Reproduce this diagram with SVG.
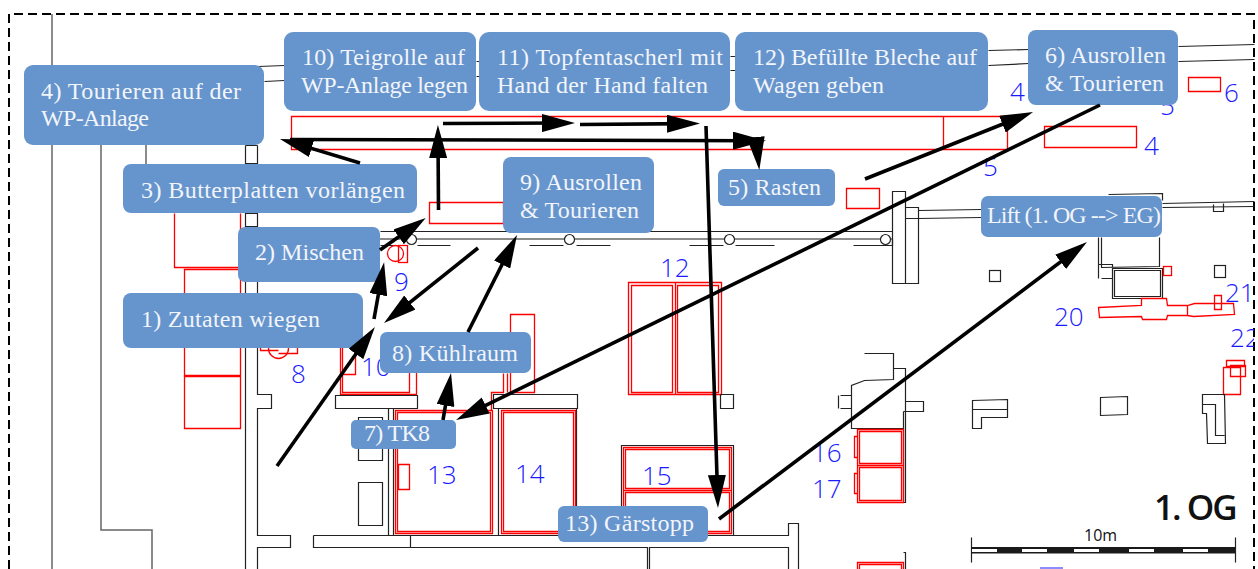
<svg xmlns="http://www.w3.org/2000/svg" width="1258" height="569" viewBox="0 0 1258 569">
<style>
.k{fill:none;stroke:#222;stroke-width:1.200;transform:translate(.5px,.5px)}
.g{fill:none;stroke:#666;stroke-width:1.500}
.r{fill:none;stroke:#f00;stroke-width:1.300;transform:translate(.5px,.5px)}
.b{font-family:"Open Sans","Liberation Sans",sans-serif;font-weight:300;font-size:26px;fill:#1a1aff}
.n{fill:#6694cc}
.t{font-family:"Liberation Serif",serif;font-size:24px;fill:#f2f5fb}
.a{fill:none;stroke:#000;stroke-width:3.600;marker-end:url(#h)}
</style>
<defs>
<marker id="h" markerUnits="userSpaceOnUse" viewBox="0 0 33 18" markerWidth="33" markerHeight="18" refX="21" refY="9" orient="auto"><path d="M0 0L33 9L0 18Z" fill="#000"/></marker>
<clipPath id="c"><rect x="0" y="0" width="1254" height="569"/></clipPath>
</defs>
<rect width="1258" height="569" fill="#fff"/>
<g id="plan">
<path d="M9 569V14H1254V569" fill="none" stroke="#000" stroke-width="2" stroke-dasharray="9 5"/>
<path class="g" d="M52 14V569M101 145V530H152V569M146 145V164"/>
<path class="k" d="M245 145V569M257 145V394H271V408H257V535H290V547H257V569M245 145H257M245 163H257M245 213H257M245 226H257"/>
<path class="k" d="M258 66L284 65M264 81L284 80M476 61H479M476 76H479M730 56H735M730 70H735M988 50L1028 49M988 65L1028 63M1178 46L1254 44M1178 61L1254 59"/>
<path class="k" d="M380 231H892M380 245H405M417 245H450M529 245H563M576 245H610M689 245H723M735 245H774M853 245H892V239"/>
<path class="g" d="M380 239H892"/>
<circle class="k" cx="411" cy="239" r="5" style="fill:#fff"/><circle class="k" cx="569" cy="239" r="5" style="fill:#fff"/><circle class="k" cx="729" cy="239" r="5" style="fill:#fff"/><circle class="k" cx="885" cy="239" r="5" style="fill:#fff"/>
<path class="k" d="M892 191H905V283H892ZM905 207H918V283H905ZM905 218H918M918 210L981 209M918 218L981 217M1162 203L1254 201M1162 207L1254 206M1108 194L1162 193V200"/>
<path class="k" d="M1213 204V211H1223V203M1101 237V267L1159 266V237M1098 237V264H1112V278H1101M1098 264V278M1112 268H1162V298H1112ZM1114 270H1160V296H1114Z"/>
<rect class="r" x="1163" y="266" width="8" height="9"/>
<rect class="k" x="989" y="270" width="11" height="11"/><rect class="k" x="1214" y="265" width="11" height="12"/>
<path class="r" d="M1098 307L1141 305V298L1166 298L1167 305H1187L1194 303H1233L1234 314L1193 316L1187 315H1167L1166 319H1142L1141 316L1099 317ZM1187 305V315M1214 295H1221V309H1214Z"/>
<path class="r" d="M1223 367H1240V394H1223ZM1226 360H1244V366H1226ZM1230 365H1245V376H1230Z"/>
<path class="k" d="M1202 394H1224L1225 443H1207L1206 413H1202ZM1202 404H1215V435H1224"/>
<path class="k" d="M1100 397L1127 396V414L1100 415Z"/>
<path class="k" d="M972 400L1007 399V417H981V428H972ZM972 409H1007"/>
<path class="k" d="M864 353H893V379L864 380L851 385V428H903M893 368H905V428M905 401H923V411H903M840 395H851M840 408H851M903 411V502H905V411M838 395V408M903 552H905V569"/>
<path class="r" d="M857 429H903V465H857ZM859 431H901V463H859ZM857 465H903V502H857ZM859 467H901V500H859ZM854 436H857V457H854ZM854 473H857V493H854ZM857 569V562H903V569M859 569V564H901V569"/>
<path class="k" d="M971 537V562M1235 537V562"/>
<rect x="971" y="547" width="264" height="6.500" fill="#1a1a1a"/>
<path fill="#fff" d="M972 549H997V552H972ZM1022 549H1047V552H1022ZM1074 549H1099V552H1074ZM1129 549H1154V552H1129ZM1183 549H1208V552H1183Z"/>
<text x="1084" y="541" style="font-family:'Open Sans','Liberation Sans',sans-serif;font-size:16px;fill:#111">10m</text>
<text x="1154" y="520" style="font-family:'Open Sans','Liberation Sans',sans-serif;font-size:35px;font-weight:600;fill:#111;letter-spacing:-2px">1. OG</text>
<path d="M1040 568H1063" stroke="#1a1aff" stroke-width="1"/>
<path class="r" d="M291 116H1007V149H291ZM943 116V149M1044 126H1136V147H1044ZM1188 77H1220V91H1188ZM846 188H879V208H846ZM429 202H503V223H429Z"/>
<path class="r" d="M174 213V267H240V213M184 269H240V375H184ZM184 376H240V428H184ZM240 213V269"/>
<circle class="r" cx="395" cy="253" r="8"/><rect class="r" x="398" y="245" width="9" height="17"/>
<path class="r" d="M260 345V350H278M278 353H297V345"/><circle class="r" cx="278" cy="348" r="10"/>
<path class="r" d="M628 282H721V394H628ZM675 282V394M631 285H672V392H631ZM677 285H718V392H677Z"/>
<path class="r" d="M510 314H534V392H510ZM491 410V392H503V373M507 373V392"/>
<path class="r" d="M340 333V394H416V333M342 335V392H409V335M342 345H355V374H342Z"/>
<path class="k" d="M335 395H417V408H335ZM493 394H577V408H493ZM498 408V535M576 408V535M388 408V535M393 408V535M358 417H382V460H358ZM358 482H382V525H358ZM720 394H733V408H720Z"/>
<path class="k" d="M621 535V445H733V535"/>
<path class="r" d="M395 410H492V533H395ZM397 412H490V531H397ZM501 410H575V533H501ZM503 412H573V531H503ZM398 464H409V489H398Z"/>
<path class="r" d="M623 447H731V533H623ZM625 449H729V488H625ZM625 492H729V531H625ZM623 490H731"/>
<path class="k" d="M313 535V547H647V569M649 569V547H788V569M313 535H788V523H798V569M410 535V547"/>
<g clip-path="url(#c)">
<text class="b" x="1010" y="101">4</text><text class="b" x="1144" y="155">4</text><text class="b" x="983" y="176">5</text><text class="b" x="1224" y="102">6</text><text class="b" x="1160" y="115">5</text>
<text class="b" x="394" y="291">9</text><text class="b" x="660" y="277">12</text><text class="b" x="291" y="383">8</text><text class="b" x="361" y="376">10</text>
<text class="b" x="427" y="484">13</text><text class="b" x="515" y="483">14</text><text class="b" x="642" y="485">15</text><text class="b" x="812" y="462">16</text><text class="b" x="812" y="498">17</text>
<text class="b" x="1054" y="326">20</text><text class="b" x="1225" y="302">21</text><text class="b" x="1230" y="347">22</text>
</g>
</g>
<g id="node-4"><rect class="n" x="24" y="65" width="240" height="80" rx="9"/><text class="t" x="41" y="99" textLength="200">4) Tourieren auf der</text><text class="t" x="41" y="126" textLength="108">WP-Anlage</text></g>
<g id="node-10"><rect class="n" x="284" y="32" width="192" height="79" rx="9"/><text class="t" x="302" y="65" textLength="163">10) Teigrolle auf</text><text class="t" x="301" y="93" textLength="167">WP-Anlage legen</text></g>
<g id="node-11"><rect class="n" x="479" y="32" width="251" height="79" rx="10"/><text class="t" x="497" y="65" textLength="226">11) Topfentascherl mit</text><text class="t" x="497" y="93" textLength="211">Hand der Hand falten</text></g>
<g id="node-12"><rect class="n" x="735" y="32" width="253" height="79" rx="10"/><text class="t" x="753" y="65" textLength="224">12) Befüllte Bleche auf</text><text class="t" x="753" y="93" textLength="131">Wagen geben</text></g>
<g id="node-6"><rect class="n" x="1028" y="30" width="150" height="75" rx="8"/><text class="t" x="1045" y="63" textLength="121">6) Ausrollen</text><text class="t" x="1045" y="91" textLength="119">&amp; Tourieren</text></g>
<g id="node-3"><rect class="n" x="123" y="164" width="294" height="49" rx="8"/><text class="t" x="141" y="198" textLength="264">3) Butterplatten vorlängen</text></g>
<g id="node-9"><rect class="n" x="503" y="157" width="151" height="76" rx="8"/><text class="t" x="520" y="190" textLength="122">9) Ausrollen</text><text class="t" x="520" y="218" textLength="119">&amp; Tourieren</text></g>
<g id="node-5"><rect class="n" x="718" y="169" width="117" height="37" rx="6"/><text class="t" x="728" y="195" textLength="93">5) Rasten</text></g>
<g id="node-lift"><rect class="n" x="981" y="196" width="181" height="41" rx="7"/><text class="t" x="987" y="223" textLength="174">Lift (1. OG --&gt; EG)</text></g>
<g id="node-2"><rect class="n" x="238" y="227" width="142" height="55" rx="7"/><text class="t" x="255" y="260" textLength="109">2) Mischen</text></g>
<g id="node-1"><rect class="n" x="123" y="293" width="240" height="55" rx="8"/><text class="t" x="141" y="327" textLength="179">1) Zutaten wiegen</text></g>
<g id="node-8"><rect class="n" x="380" y="332" width="151" height="41" rx="7"/><text class="t" x="392" y="361" textLength="126">8) Kühlraum</text></g>
<g id="node-7"><rect class="n" x="351" y="420" width="105" height="29" rx="5"/><text class="t" x="364" y="441" textLength="66">7) TK8</text></g>
<g id="node-13"><rect class="n" x="558" y="506" width="150" height="36" rx="6"/><text class="t" x="565" y="531" textLength="129">13) Gärstopp</text></g>
<g id="connectors">
<path class="a" d="M360 163L291.500 142.400"/>
<path class="a" d="M290 139.500L754 140.700"/>
<path class="a" d="M756 140L758 158"/>
<path class="a" d="M438.500 210L438 137"/>
<path class="a" d="M443 123.500L563 123"/>
<path class="a" d="M580 124.500L688 123.600"/>
<path class="a" d="M706 126L717.600 496"/>
<path class="a" d="M719 519L1077.400 249.200"/>
<path class="a" d="M865 179L1021.900 116.400"/>
<path class="a" d="M1100 105L466.800 414.700"/>
<path class="a" d="M443 420L449 384.800"/>
<path class="a" d="M468 332L511.600 245.700"/>
<path class="a" d="M478 248L393.400 315.600"/>
<path class="a" d="M380 250L415.900 224.800"/>
<path class="a" d="M374 319L382 274"/>
<path class="a" d="M277 466L368 336.800"/>
</g>
</svg>
